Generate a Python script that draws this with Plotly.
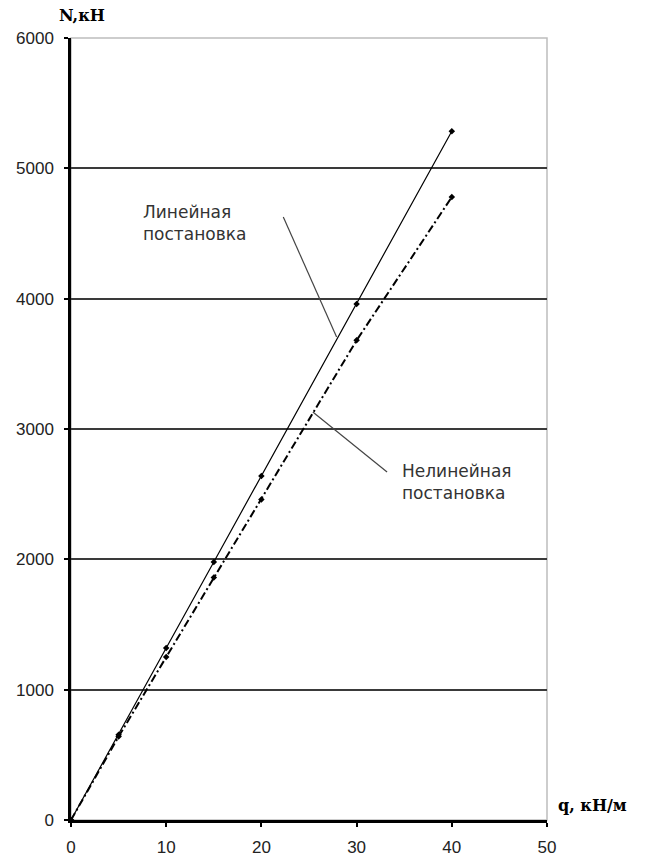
import plotly.graph_objects as go

# load q, kN/m
q = [0, 5, 10, 15, 20, 30, 40]
# axial force N, kN
n_linear = [0, 655, 1320, 1980, 2640, 3960, 5285]
n_nonlinear = [0, 640, 1250, 1860, 2460, 3680, 4780]

x_ticks = [0, 10, 20, 30, 40, 50]
y_ticks = [0, 1000, 2000, 3000, 4000, 5000, 6000]

fig = go.Figure()

fig.add_trace(go.Scatter(
    x=q, y=n_linear, mode="lines+markers",
    line=dict(color="black", width=1.2),
    marker=dict(symbol="diamond", size=5, color="black"),
    showlegend=False,
))
fig.add_trace(go.Scatter(
    x=q, y=n_nonlinear, mode="lines+markers",
    line=dict(color="black", width=2, dash="8px,3px,2px,3px"),
    marker=dict(symbol="diamond", size=5, color="black"),
    showlegend=False,
))

# light frame at top and right
fig.add_shape(type="rect", xref="x domain", yref="y domain", x0=0, x1=1, y0=0, y1=1,
              line=dict(color="#bdbdbd", width=1.5), layer="below")

label_font = dict(family="DejaVu Sans", size=17, color="#333333")
fig.add_annotation(x=7.4, y=4581, xref="x", yref="y", text="Линейная<br>постановка",
                   showarrow=False, font=label_font, align="left", xanchor="left")
fig.add_annotation(x=34.6, y=2593, xref="x", yref="y", text="Нелинейная<br>постановка",
                   showarrow=False, font=label_font, align="left", xanchor="left")

# leader lines
fig.add_shape(type="line", xref="x", yref="y", x0=22.3, y0=4627, x1=27.9, y1=3706,
              line=dict(color="#444444", width=1.2))
fig.add_shape(type="line", xref="x", yref="y", x0=25.4, y0=3131, x1=33.2, y1=2670,
              line=dict(color="#444444", width=1.2))

title_font = dict(family="DejaVu Serif", size=16, color="black")
fig.add_annotation(x=0, y=1, xref="x domain", yref="y domain", text="<b>N,кН</b>",
                   showarrow=False, font=title_font, xanchor="left", yanchor="bottom",
                   xshift=-14, yshift=11)
fig.add_annotation(x=1, y=0, xref="x domain", yref="y domain", text="<b>q, кН/м</b>",
                   showarrow=False, font=title_font, xanchor="left", yanchor="middle",
                   xshift=9, yshift=15)

tick_font = dict(family="Liberation Sans, Arial", size=17, color="#222222")
fig.update_xaxes(
    range=[0, 50], tickvals=x_ticks, showgrid=False, zeroline=False,
    showline=True, linecolor="black", linewidth=2.5, automargin=False,
    ticks="outside", ticklen=4, tickwidth=2, tickcolor="black",
    tickfont=tick_font, ticklabelstandoff=6,
)
fig.update_yaxes(
    range=[0, 6000], tickvals=y_ticks, showgrid=True, gridcolor="#3a3a3a", gridwidth=1.5,
    zeroline=False, showline=True, linecolor="black", linewidth=2.5, automargin=False,
    ticks="outside", ticklen=4, tickwidth=2, tickcolor="black",
    tickfont=tick_font, ticklabelstandoff=7,
)

fig.update_layout(
    width=646, height=862,
    margin=dict(l=71, r=99, t=38, b=42, autoexpand=False),
    plot_bgcolor="white", paper_bgcolor="white",
)

fig.write_html("out.html")
